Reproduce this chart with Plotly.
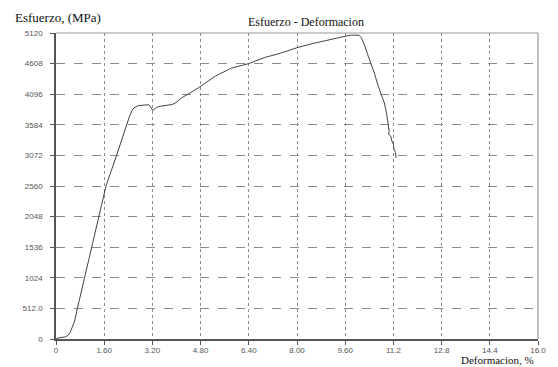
import plotly.graph_objects as go

# Data
deformacion = [0.0, 0.10, 0.30, 0.40, 0.47, 0.55, 0.62, 0.71, 0.95, 1.20, 1.42, 1.66, 2.01, 2.34,
               2.45, 2.52, 2.59, 2.75, 2.95, 3.08, 3.15, 3.21, 3.30, 3.41, 3.85, 3.95,
               4.17, 4.72, 5.27, 5.82, 6.40, 6.91, 7.45, 8.00, 8.55, 9.09, 9.64, 9.82, 9.97,
               10.06, 10.13, 10.19, 10.24, 10.35, 10.46, 10.57, 10.68, 10.79, 10.90, 10.97,
               11.03, 11.06, 11.04, 11.11, 11.15, 11.20, 11.22, 11.27, 11.29]
esfuerzo = [0, 20, 33, 60, 110, 200, 300, 512, 1024, 1536, 2048, 2560, 3072, 3584,
            3740, 3820, 3868, 3906, 3922, 3920, 3880, 3823, 3860, 3890, 3923, 3945,
            4034, 4200, 4393, 4532, 4608, 4708, 4781, 4874, 4947, 5013, 5070, 5085, 5090,
            5082, 5045, 4990, 4919, 4753, 4615, 4449, 4255, 4089, 3951, 3785,
            3591, 3479, 3424, 3396, 3313, 3258, 3175, 3121, 3030]

x_ticks = [0, 1.6, 3.2, 4.8, 6.4, 8.0, 9.6, 11.2, 12.8, 14.4, 16.0]
x_ticktext = ["0", "1.60", "3.20", "4.80", "6.40", "8.00", "9.60", "11.2", "12.8", "14.4", "16.0"]
y_ticks = [0, 512, 1024, 1536, 2048, 2560, 3072, 3584, 4096, 4608, 5120]
y_ticktext = ["0", "512.0", "1024", "1536", "2048", "2560", "3072", "3584", "4096", "4608", "5120"]

fig = go.Figure()
fig.add_trace(go.Scatter(x=deformacion, y=esfuerzo, mode="lines",
                         line=dict(color="#444444", width=1), hoverinfo="skip"))

tickfont = dict(family="Liberation Sans, Arial, sans-serif", size=8, color="#555555")
serif = "Liberation Serif, Times New Roman, serif"

fig.update_layout(
    width=558, height=367,
    margin=dict(l=56, r=14, t=33, b=26),
    paper_bgcolor="white", plot_bgcolor="white",
    showlegend=False,
    xaxis=dict(range=[0, 16], tickvals=x_ticks, ticktext=x_ticktext,
               showgrid=True, gridcolor="#8a8a8a", griddash="dot", gridwidth=1,
               showline=True, linecolor="#555555", linewidth=1.5,
               ticks="outside", ticklen=4, tickcolor="#555555",
               tickfont=tickfont, zeroline=False, fixedrange=True,
               ticklabelstandoff=-1),
    yaxis=dict(range=[0, 5120], tickvals=y_ticks, ticktext=y_ticktext,
               showgrid=True, gridcolor="#8a8a8a", griddash="dash", gridwidth=1,
               showline=True, linecolor="#555555", linewidth=1.5,
               ticks="outside", ticklen=4, tickcolor="#555555",
               tickfont=tickfont, zeroline=False, fixedrange=True,
               ticklabelstandoff=6),
    shapes=[
        dict(type="line", xref="paper", yref="paper", x0=0, x1=1, y0=1, y1=1,
             line=dict(color="#999999", width=1.2)),
        dict(type="line", xref="paper", yref="paper", x0=1, x1=1, y0=0, y1=1,
             line=dict(color="#999999", width=1.2)),
    ],
    annotations=[
        dict(text="Esfuerzo, (MPa)", xref="paper", yref="paper", x=-0.09, y=1.0,
             xanchor="left", yanchor="bottom", yshift=6, showarrow=False,
             font=dict(family=serif, size=13, color="#111111")),
        dict(text="Esfuerzo - Deformacion", xref="paper", yref="paper", x=0.518, y=1.0,
             xanchor="center", yanchor="bottom", yshift=2, showarrow=False,
             font=dict(family=serif, size=12, color="#111111")),
        dict(text="Deformacion, %", xref="paper", yref="paper", x=0.838, y=0.0,
             xanchor="left", yanchor="top", yshift=-14, showarrow=False, borderpad=0,
             font=dict(family=serif, size=11, color="#111111")),
    ],
)

fig.write_html("out.html")
